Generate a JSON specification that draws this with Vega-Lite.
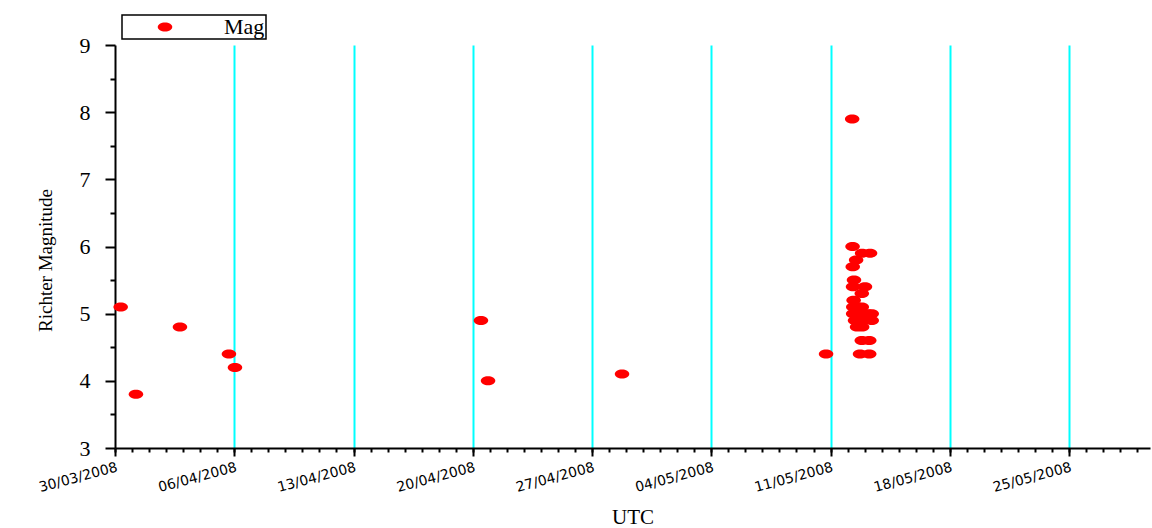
{
  "$schema": "https://vega.github.io/schema/vega-lite/v6.json",
  "width": 1035,
  "height": 403,
  "autosize": {"type": "none"},
  "padding": {"left": 115, "top": 45, "right": 2, "bottom": 80},
  "background": "white",
  "config": {
    "view": {"stroke": null},
    "legend": {"strokeWidth": 1.5}
  },
  "data": {
    "values": [
      {"time": "2008-03-30T08:00:00Z", "mag": 5.1},
      {"time": "2008-03-31T05:30:00Z", "mag": 3.8},
      {"time": "2008-04-02T19:30:00Z", "mag": 4.8},
      {"time": "2008-04-05T16:30:00Z", "mag": 4.4},
      {"time": "2008-04-06T01:00:00Z", "mag": 4.2},
      {"time": "2008-04-20T11:30:00Z", "mag": 4.9},
      {"time": "2008-04-20T21:30:00Z", "mag": 4.0},
      {"time": "2008-04-28T18:15:00Z", "mag": 4.1},
      {"time": "2008-05-10T17:40:00Z", "mag": 4.4},
      {"time": "2008-05-12T06:28:00Z", "mag": 7.9},
      {"time": "2008-05-12T07:00:00Z", "mag": 6.0},
      {"time": "2008-05-12T07:15:00Z", "mag": 5.7},
      {"time": "2008-05-12T09:00:00Z", "mag": 5.5},
      {"time": "2008-05-12T07:40:00Z", "mag": 5.4},
      {"time": "2008-05-12T12:00:00Z", "mag": 5.8},
      {"time": "2008-05-12T20:24:00Z", "mag": 5.9},
      {"time": "2008-05-13T07:40:00Z", "mag": 5.9},
      {"time": "2008-05-13T00:30:00Z", "mag": 5.4},
      {"time": "2008-05-12T20:00:00Z", "mag": 5.3},
      {"time": "2008-05-12T08:30:00Z", "mag": 5.2},
      {"time": "2008-05-12T08:00:00Z", "mag": 5.1},
      {"time": "2008-05-12T14:40:00Z", "mag": 5.1},
      {"time": "2008-05-12T20:00:00Z", "mag": 5.1},
      {"time": "2008-05-12T07:50:00Z", "mag": 5.0},
      {"time": "2008-05-12T16:00:00Z", "mag": 5.0},
      {"time": "2008-05-13T04:50:00Z", "mag": 5.0},
      {"time": "2008-05-13T10:00:00Z", "mag": 5.0},
      {"time": "2008-05-12T10:30:00Z", "mag": 4.9},
      {"time": "2008-05-12T20:30:00Z", "mag": 4.9},
      {"time": "2008-05-13T10:00:00Z", "mag": 4.9},
      {"time": "2008-05-12T13:20:00Z", "mag": 4.8},
      {"time": "2008-05-12T20:30:00Z", "mag": 4.8},
      {"time": "2008-05-12T20:00:00Z", "mag": 4.6},
      {"time": "2008-05-13T06:30:00Z", "mag": 4.6},
      {"time": "2008-05-12T17:30:00Z", "mag": 4.4},
      {"time": "2008-05-13T06:30:00Z", "mag": 4.4}
    ]
  },
  "layer": [
    {
      "mark": {
        "type": "point",
        "filled": true,
        "opacity": 1,
        "shape": "M-1,0A1,0.62,0,1,1,1,0A1,0.62,0,1,1,-1,0Z",
        "size": 210
      },
      "encoding": {
        "x": {
          "field": "time",
          "type": "temporal",
          "scale": {
            "type": "utc",
            "nice": false,
            "domain": [
              {"year": 2008, "month": 3, "date": 30, "utc": true},
              {"year": 2008, "month": 5, "date": 29, "hours": 18, "utc": true}
            ]
          },
          "axis": {
            "orient": "bottom",
            "title": "UTC",
            "titleFont": "Liberation Serif",
            "titleFontSize": 21,
            "titleFontWeight": "normal",
            "titleColor": "black",
            "titleY": 75,
            "titleBaseline": "alphabetic",
            "tickCount": {"interval": "week", "step": 1},
            "format": "%d/%m/%Y",
            "labelAngle": -15,
            "labelAlign": "right",
            "labelBaseline": "top",
            "labelFont": "DejaVu Sans",
            "labelFontSize": 14,
            "labelColor": "black",
            "labelPadding": 4,
            "labelOverlap": false,
            "labelFlush": false,
            "tickSize": 8,
            "tickWidth": 2,
            "tickColor": "black",
            "domainColor": "black",
            "domainWidth": 2,
            "grid": true,
            "gridColor": "#00ffff",
            "gridWidth": 2,
            "gridOpacity": {"condition": {"test": "datum.value <= utc(2008,2,30,1)", "value": 0}, "value": 1}
          }
        },
        "y": {
          "field": "mag",
          "type": "quantitative",
          "scale": {"domain": [3, 9], "nice": false, "zero": false},
          "axis": {
            "orient": "left",
            "title": "Richter Magnitude",
            "titleFont": "Liberation Serif",
            "titleFontSize": 19,
            "titleFontWeight": "normal",
            "titleColor": "black",
            "titleAngle": -90,
            "titleAlign": "center",
            "titleBaseline": "alphabetic",
            "titleX": -64,
            "titleY": 215,
            "values": [3, 4, 5, 6, 7, 8, 9],
            "labelFont": "Liberation Serif",
            "labelFontSize": 22,
            "labelColor": "black",
            "labelPadding": 15,
            "tickSize": 10,
            "tickWidth": 2,
            "tickColor": "black",
            "domainColor": "black",
            "domainWidth": 2,
            "grid": false
          }
        },
        "color": {
          "datum": "Mag",
          "scale": {"range": ["#ff0000"]},
          "legend": {
            "title": null,
            "orient": "none",
            "legendX": 7,
            "legendY": -30,
            "padding": 1,
            "strokeColor": "black",
            "fillColor": "white",
            "symbolType": "M-1,0A1,0.62,0,1,1,1,0A1,0.62,0,1,1,-1,0Z",
            "symbolSize": 210,
            "symbolOffset": 31,
            "labelOffset": 48,
            "labelFont": "Liberation Serif",
            "labelFontSize": 22,
            "labelFontWeight": "normal",
            "labelColor": "black"
          }
        }
      }
    },
    {
      "mark": {"type": "point", "opacity": 0},
      "encoding": {
        "x": {
          "field": "time",
          "type": "temporal",
          "axis": {
            "orient": "bottom",
            "tickCount": {"interval": "day", "step": 1},
            "labels": false,
            "domain": false,
            "grid": false,
            "title": null,
            "tickSize": 4,
            "tickWidth": 2,
            "tickColor": "black"
          }
        },
        "y": {
          "field": "mag",
          "type": "quantitative",
          "axis": {
            "orient": "left",
            "values": [3.5, 4.5, 5.5, 6.5, 7.5, 8.5],
            "labels": false,
            "domain": false,
            "grid": false,
            "title": null,
            "tickSize": 5,
            "tickWidth": 2,
            "tickColor": "black"
          }
        }
      }
    }
  ],
  "resolve": {"axis": {"x": "independent", "y": "independent"}}
}
